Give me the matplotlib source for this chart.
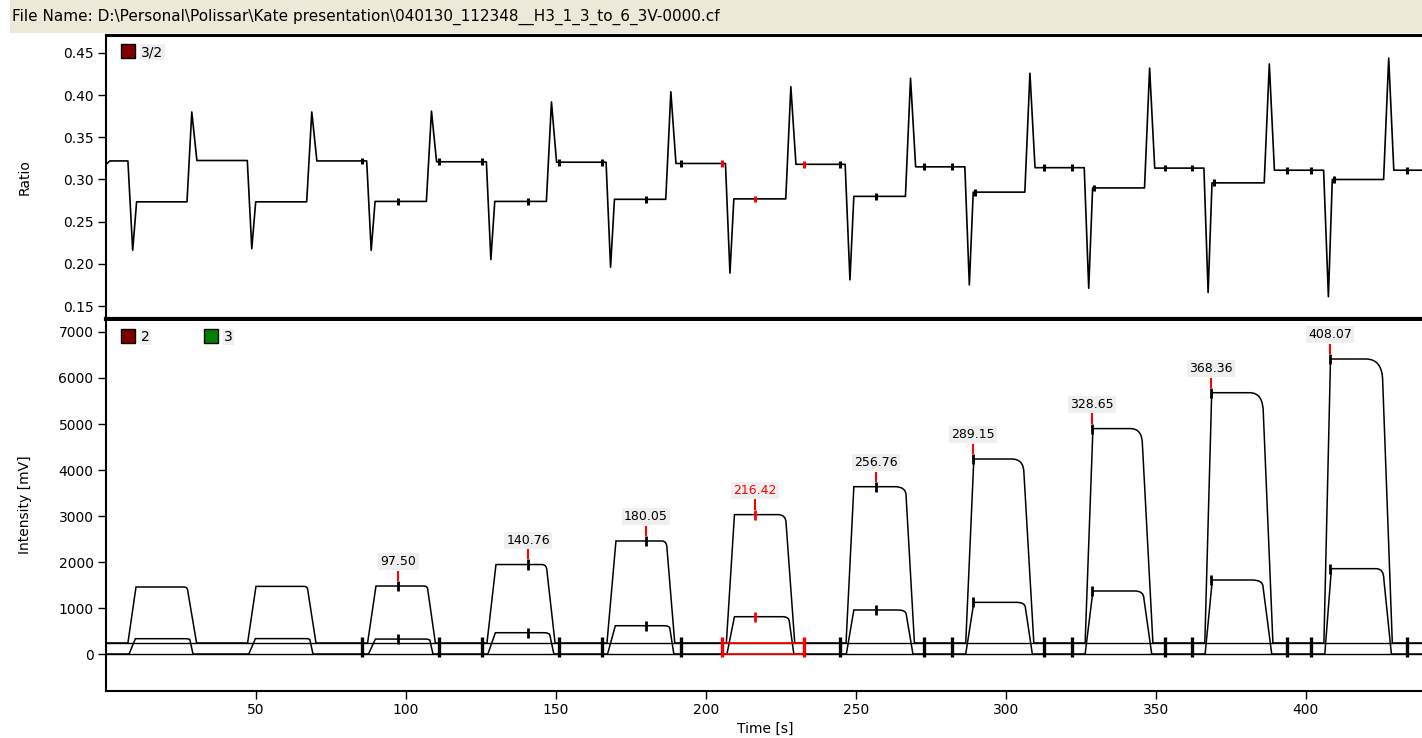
import numpy as np
import matplotlib
matplotlib.use("Agg")
import matplotlib.pyplot as plt
from matplotlib.path import Path
from matplotlib.patches import PathPatch, Rectangle

W, H = 1422, 738
X_END = 438.7

header = r"File Name: D:\Personal\Polissar\Kate presentation\040130_112348__H3_1_3_to_6_3V-0000.cf"

# ratio 3/2 trace, one entry per pulse
ratio_t0, ratio_v0, ratio_first = 0.0, 0.318, 0.322
drop_t = [7.3, 47.1, 86.9, 126.8, 166.7, 206.5, 246.4, 286.3, 326.1, 366.0, 405.9]
dip_t = [8.9, 48.6, 88.4, 128.3, 168.2, 208.0, 248.0, 287.8, 327.6, 367.4, 407.5]
dip_v = [0.216, 0.218, 0.216, 0.205, 0.196, 0.189, 0.181, 0.175, 0.171, 0.166, 0.161]
plat_t = [10.2, 49.9, 89.7, 129.6, 169.5, 209.3, 249.3, 289.1, 328.9, 368.7, 408.8]
plat_v = [0.2735, 0.2735, 0.274, 0.274, 0.2765, 0.277, 0.280, 0.285, 0.290, 0.296, 0.300]
rise_t = [27.0, 66.9, 106.8, 146.8, 186.6, 226.6, 266.5, 306.3, 346.2, 386.1, 425.9]
spike_t = [28.6, 68.6, 108.5, 148.5, 188.3, 228.3, 268.2, 308.0, 347.9, 387.8, 427.6]
spike_v = [0.380, 0.380, 0.381, 0.392, 0.404, 0.410, 0.420, 0.426, 0.432, 0.437, 0.444]
settle_t = [30.3, 70.3, 110.2, 150.2, 190.0, 230.0, 269.9, 309.7, 349.6, 389.5, 429.3]
between_v = [0.3225, 0.322, 0.321, 0.3205, 0.319, 0.318, 0.315, 0.314, 0.3135, 0.311, 0.311]

# mass 2 (large) trace
m2_base = 240
m2_rise = [7.3, 47.2, 87.2, 127.0, 167.0, 206.8, 246.7, 286.6, 326.4, 366.3, 406.0]
m2_top_t = [10.0, 50.0, 90.0, 130.0, 170.0, 209.5, 249.3, 289.3, 329.0, 368.6, 408.2]
m2_top = [1457, 1470, 1478, 1945, 2457, 3030, 3637, 4239, 4900, 5680, 6413]
m2_round = [26.0, 66.0, 106.0, 145.3, 185.3, 224.0, 263.0, 301.9, 341.5, 381.3, 420.0]
m2_knee_t = [27.3, 67.3, 107.3, 147.0, 187.0, 226.7, 266.7, 306.0, 345.5, 385.8, 425.6]
m2_knee_v = [1350, 1370, 1380, 1800, 2300, 2850, 3450, 3930, 4550, 5240, 5920]
m2_end = [30.2, 70.0, 109.8, 149.7, 189.6, 229.6, 269.5, 309.3, 349.0, 389.0, 428.8]

# mass 3 (small) trace
m3_base = 0
m3_rise = [7.7, 47.6, 87.5, 127.3, 167.2, 207.0, 246.8, 286.6, 326.4, 366.4, 406.3]
m3_top_t = [9.8, 49.8, 89.8, 129.8, 169.8, 209.5, 249.3, 289.3, 329.0, 368.8, 408.5]
m3_top = [333, 335, 325, 463, 615, 811, 957, 1123, 1370, 1609, 1855]
m3_round = [26.5, 66.5, 106.3, 146.0, 186.0, 225.5, 264.0, 303.5, 343.0, 382.0, 423.5]
m3_knee_t = [28.0, 68.0, 108.0, 148.0, 188.0, 227.8, 266.8, 306.5, 346.0, 385.7, 426.0]
m3_knee_v = [300, 300, 290, 400, 540, 700, 850, 1000, 1200, 1463, 1609]
m3_end = [29.0, 69.0, 109.0, 149.3, 189.3, 229.3, 269.0, 308.8, 348.6, 388.6, 428.5]

# detected peaks (pulses 3..11)
apex_t = [97.50, 140.76, 180.05, 216.42, 256.76, 289.15, 328.65, 368.36, 408.07]
apex_lbl = ["97.50", "140.76", "180.05", "216.42", "256.76", "289.15", "328.65", "368.36", "408.07"]
bound_start = [85.3, 125.3, 165.3, 205.3, 244.7, 282.0, 322.0, 362.0, 401.7]
bound_end = [111.0, 151.0, 191.7, 232.7, 272.7, 312.7, 353.0, 393.7, 433.7]
selected = 3

ratio_ticks = [0.15, 0.20, 0.25, 0.30, 0.35, 0.40, 0.45]
int_ticks = [0, 1000, 2000, 3000, 4000, 5000, 6000, 7000]
time_ticks = [50, 100, 150, 200, 250, 300, 350, 400]


def trace_path(base, rise, top_t, top, rnd, knee_t, knee_v, end):
    verts = [(0, base)]
    codes = [Path.MOVETO]
    for i in range(len(rise)):
        verts += [(rise[i], base), (top_t[i], top[i]), (rnd[i], top[i]),
                  (knee_t[i], top[i]), (knee_t[i], knee_v[i]), (end[i], base)]
        codes += [Path.LINETO, Path.LINETO, Path.LINETO,
                  Path.CURVE3, Path.CURVE3, Path.LINETO]
    verts.append((X_END, base))
    codes.append(Path.LINETO)
    return Path(verts, codes)


plt.rcParams["font.family"] = "DejaVu Sans"
fig = plt.figure(figsize=(W / 100, H / 100), dpi=100)

# header bar
fig.patches.append(Rectangle((10 / W, 1 - 33 / H), 1, 33 / H, transform=fig.transFigure,
                             facecolor="#ECE9D8", edgecolor="none"))
fig.text(12 / W, 1 - 17 / H, header, fontsize=11, va="center", ha="left")

ax1 = fig.add_axes([106 / W, 1 - 319 / H, 1316 / W, 284 / H])
ax2 = fig.add_axes([106 / W, 1 - 691 / H, 1316 / W, 370 / H])

# ratio panel
rt = [ratio_t0, 1.3]
rv = [ratio_v0, ratio_first]
prev = ratio_first
for i in range(len(dip_t)):
    rt += [drop_t[i], dip_t[i], plat_t[i], rise_t[i], spike_t[i], settle_t[i]]
    rv += [prev, dip_v[i], plat_v[i], plat_v[i], spike_v[i], between_v[i]]
    prev = between_v[i]
rt.append(X_END)
rv.append(prev)
ax1.plot(rt, rv, color="black", lw=1.2)

for k in range(len(apex_t)):
    col = "red" if k == selected else "black"
    marks = [(bound_start[k], np.interp(bound_start[k], rt, rv)),
             (max(apex_t[k], plat_t[k + 2] + 0.5), plat_v[k + 2]),
             (bound_end[k], np.interp(bound_end[k], rt, rv))]
    for t, y in marks:
        ax1.vlines(t, y - 0.004, y + 0.004, color=col, lw=2.2, zorder=4)

ax1.set_xlim(0, X_END)
ax1.set_ylim(0.1346, 0.4713)
ax1.set_xticks([])
ax1.set_yticks(ratio_ticks)
ax1.set_yticklabels([f"{v:.2f}" for v in ratio_ticks])

# intensity panel
ax2.axhline(m2_base, color="black", lw=1.0)
ax2.axhline(m3_base, color="black", lw=1.0)
ax2.add_patch(PathPatch(trace_path(m2_base, m2_rise, m2_top_t, m2_top, m2_round,
                                   m2_knee_t, m2_knee_v, m2_end),
                        fill=False, edgecolor="black", lw=1.1, zorder=4))
ax2.add_patch(PathPatch(trace_path(m3_base, m3_rise, m3_top_t, m3_top, m3_round,
                                   m3_knee_t, m3_knee_v, m3_end),
                        fill=False, edgecolor="black", lw=1.1, zorder=4))
ax2.hlines([m2_base, m3_base], bound_start[selected], bound_end[selected], color="red", lw=1.2, zorder=6)

for k in range(len(apex_t)):
    col = "red" if k == selected else "black"
    ax2.vlines([bound_start[k], bound_end[k]], -70, 380, color=col, lw=2.4, zorder=7)
    big = m2_top[k + 2]
    small = m3_top[k + 2]
    ax2.vlines(apex_t[k], big - 110, big + 110, color=col, lw=2, zorder=7)
    ax2.vlines(apex_t[k], small - 110, small + 110, color=col, lw=2, zorder=7)
    ax2.vlines(apex_t[k], big + 110, big + 330, color="red", lw=1.5, zorder=7)
    ax2.text(apex_t[k], big + 530, apex_lbl[k], fontsize=9, ha="center", va="center",
             color=("red" if k == selected else "black"),
             bbox=dict(facecolor="#EFEFEF", edgecolor="none", pad=1.5))

ax2.set_xlim(0, X_END)
ax2.set_ylim(-804, 7239)
ax2.set_yticks(int_ticks)
ax2.set_xticks(time_ticks)

for ax in (ax1, ax2):
    ax.spines["right"].set_visible(False)
    ax.spines["left"].set_linewidth(1.5)
    ax.tick_params(axis="both", direction="out", length=6, width=1, labelsize=10, pad=3)
ax1.spines["top"].set_linewidth(2.2)
ax1.spines["bottom"].set_linewidth(3)
ax2.spines["top"].set_visible(False)
ax2.spines["bottom"].set_linewidth(1.5)

# axis titles
fig.text(25 / W, 1 - 177 / H, "Ratio", rotation=90, ha="center", va="center", fontsize=10)
fig.text(25 / W, 1 - 505 / H, "Intensity [mV]", rotation=90, ha="center", va="center", fontsize=10)
fig.text(765 / W, 1 - 729 / H, "Time [s]", ha="center", va="center", fontsize=10)

# legends
for (px, py, col, lbl) in [(121, 44, "#800000", "3/2"), (121, 329, "#800000", "2"), (204, 329, "#008000", "3")]:
    fig.patches.append(Rectangle((px / W, 1 - (py + 14) / H), 14 / W, 14 / H, transform=fig.transFigure,
                                 facecolor=col, edgecolor="black", lw=1))
    fig.text((px + 20) / W, 1 - (py + 8) / H, lbl, fontsize=10, ha="left", va="center",
             bbox=dict(facecolor="#EFEFEF", edgecolor="none", pad=1))

fig.savefig("out.png", dpi=100)
